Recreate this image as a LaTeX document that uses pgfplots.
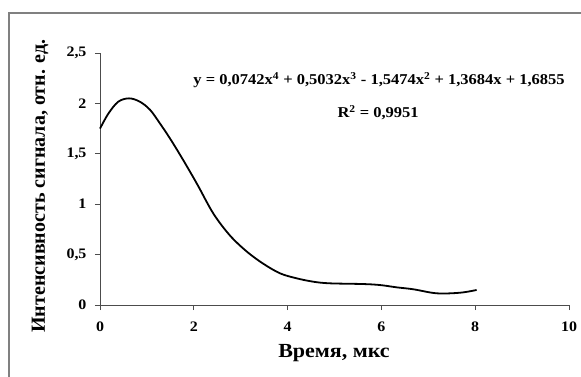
\documentclass[border=0pt]{standalone}
\usepackage{fontspec}
\setmainfont{Liberation Serif}[FakeStretch=1.1]
\newfontfamily\ylabfont{Liberation Serif}
\usepackage{pgfplots}
\pgfplotsset{compat=1.18}
\begin{document}
\begin{tikzpicture}
\useasboundingbox (0pt,0pt) rectangle (581pt,376pt);
\fill[white] (0pt,0pt) rectangle (581pt,376pt);
\draw[black!50, line width=1.6pt] (9pt,-5pt) -- (9pt,363pt) -- (590pt,363pt);
\begin{axis}[
  at={(100pt,71pt)}, anchor=south west,
  width=469pt, height=252pt, scale only axis,
  xmin=0, xmax=10, ymin=0, ymax=2.5,
  xtick={0,2,4,6,8,10}, ytick={0,0.5,1,1.5,2,2.5},
  axis lines=left,
  axis line style={-, black!70, line width=0.9pt},
  tick style={black!70, line width=0.9pt},
  tick align=outside, major tick length=5pt,
  /pgf/number format/use comma,
  /pgf/number format/assume math mode=true,
  ticklabel style={font=\fontsize{14.5}{16}\selectfont\bfseries},
  xticklabel style={yshift=-8pt},
  yticklabel style={xshift=-5pt},
  xlabel={Время, мкс},
  ylabel={\ylabfont Интенсивность сигнала, отн. ед.},
  label style={font=\fontsize{20}{23}\selectfont\bfseries},
  xlabel style={at={(axis description cs:0.499,-0.19)}, anchor=center},
  ylabel style={at={(axis description cs:-0.128,0.472)}, anchor=center},
  clip=false,
]
\addplot[black, line width=1.8pt, smooth, tension=0.55] coordinates {
(0.00,1.750) (0.18,1.900) (0.39,2.017) (0.62,2.050) (0.85,2.017)
(1.07,1.935) (1.28,1.800) (1.49,1.654) (1.71,1.488) (1.92,1.322)
(2.10,1.175) (2.42,0.905) (2.77,0.690) (3.13,0.530) (3.48,0.410)
(3.84,0.314) (4.19,0.265) (4.55,0.231) (4.90,0.215) (5.61,0.208)
(5.97,0.198) (6.33,0.175) (6.68,0.156) (7.18,0.116) (7.68,0.122)
(8.03,0.149)
};
\node[font=\fontsize{15}{17}\selectfont\bfseries] at (axis cs:5.95,2.23)
  {y = 0,0742x\textsuperscript{4} + 0,5032x\textsuperscript{3} - 1,5474x\textsuperscript{2} + 1,3684x + 1,6855};
\node[font=\fontsize{15}{17}\selectfont\bfseries] at (axis cs:5.93,1.905)
  {R\textsuperscript{2} = 0,9951};
\end{axis}
\end{tikzpicture}
\end{document}
